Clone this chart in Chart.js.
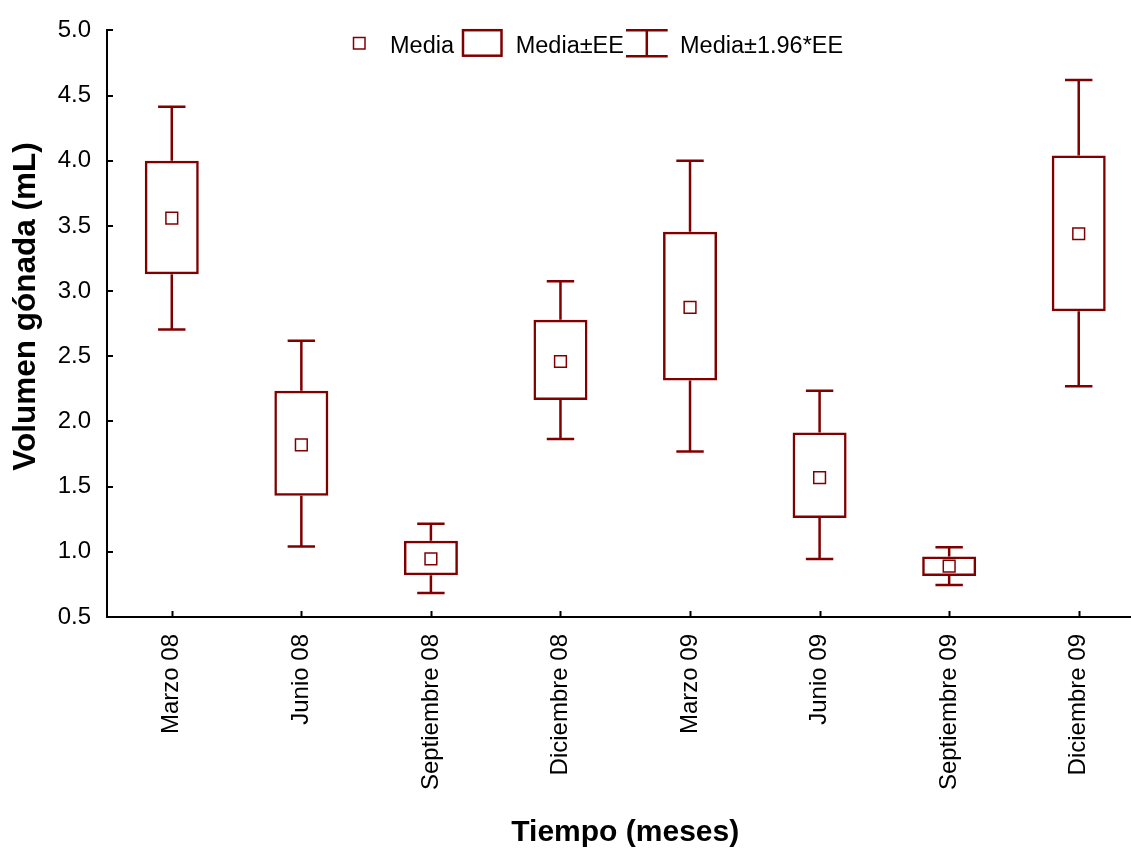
<!DOCTYPE html>
<html>
<head>
<meta charset="utf-8">
<script src="https://cdn.jsdelivr.net/npm/chart.js@4.4.1/dist/chart.umd.min.js"></script>
<style>
  html, body { margin: 0; padding: 0; overflow: hidden; background: #fff; }
  #wrap { width: 1160px; height: 848px; }
</style>
</head>
<body>
<div id="wrap"><canvas id="c" width="1160" height="848"></canvas></div>
<script>
// Sampling dates
const categories = ['Marzo 08', 'Junio 08', 'Septiembre 08', 'Diciembre 08',
                    'Marzo 09', 'Junio 09', 'Septiembre 09', 'Diciembre 09'];
// Mean gonad volume (mL)
const media    = [3.56, 1.82, 0.945, 2.46, 2.875, 1.57, 0.89, 3.44];
// Mean ± standard error (box)
const eeLow    = [3.13, 1.43, 0.82, 2.165, 2.315, 1.26, 0.815, 2.845];
const eeHigh   = [4.00, 2.235, 1.085, 2.78, 3.455, 1.915, 0.965, 4.04];
// Mean ± 1.96 * standard error (whiskers)
const ic95Low  = [2.705, 1.04, 0.685, 1.865, 1.77, 0.945, 0.745, 2.27];
const ic95High = [4.415, 2.62, 1.215, 3.075, 4.00, 2.235, 1.035, 4.62];
// Y axis tick values
const yTicks = [0.5, 1.0, 1.5, 2.0, 2.5, 3.0, 3.5, 4.0, 4.5, 5.0];
const legendLabels = ['Media', 'Media±EE', 'Media±1.96*EE'];
const xTitle = 'Tiempo (meses)';
const yTitle = 'Volumen gónada (mL)';

const RED = '#800000';
const FONT = "'Liberation Sans', Arial, Helvetica, sans-serif";

// Whiskers, inward tick marks, legend and axis titles
const decor = {
  id: 'decor',
  afterDatasetsDraw(chart) {
    const { ctx, chartArea: a } = chart;
    const x = chart.scales.x, y = chart.scales.y;
    ctx.save();

    // whiskers: from box edge to mean ± 1.96*EE with caps
    ctx.strokeStyle = RED;
    ctx.lineWidth = 2.5;
    ctx.lineCap = 'butt';
    const cap = 13.7;
    categories.forEach((c, i) => {
      const cx = x.getPixelForValue(i);
      const yh = y.getPixelForValue(ic95High[i]);
      const yl = y.getPixelForValue(ic95Low[i]);
      const bh = y.getPixelForValue(eeHigh[i]);
      const bl = y.getPixelForValue(eeLow[i]);
      ctx.beginPath();
      ctx.moveTo(cx, bh); ctx.lineTo(cx, yh);
      ctx.moveTo(cx - cap, yh); ctx.lineTo(cx + cap, yh);
      ctx.moveTo(cx, bl); ctx.lineTo(cx, yl);
      ctx.moveTo(cx - cap, yl); ctx.lineTo(cx + cap, yl);
      ctx.stroke();
    });

    // tick marks pointing into the plot
    ctx.strokeStyle = '#000';
    ctx.lineWidth = 2;
    ctx.beginPath();
    y.ticks.forEach(t => {
      const py = Math.round(y.getPixelForValue(t.value));
      ctx.moveTo(a.left, py); ctx.lineTo(a.left + 6, py);
    });
    x.ticks.forEach((t, i) => {
      const px = Math.round(x.getPixelForTick(i)) + 0.5;
      ctx.moveTo(px, a.bottom); ctx.lineTo(px, a.bottom - 6);
    });
    ctx.stroke();

    // legend
    ctx.strokeStyle = RED;
    ctx.lineWidth = 1.5;
    ctx.strokeRect(353.5, 37.5, 11.5, 11.5);
    ctx.lineWidth = 2.5;
    ctx.strokeRect(463, 30.2, 38.5, 25.5);
    ctx.beginPath();
    ctx.moveTo(626, 30.2); ctx.lineTo(667.7, 30.2);
    ctx.moveTo(646.8, 30.2); ctx.lineTo(646.8, 56.2);
    ctx.moveTo(626, 56.2); ctx.lineTo(667.7, 56.2);
    ctx.stroke();
    ctx.fillStyle = '#000';
    ctx.font = '23.5px ' + FONT;
    ctx.textAlign = 'left';
    ctx.textBaseline = 'alphabetic';
    ctx.fillText(legendLabels[0], 390, 52.5);
    ctx.fillText(legendLabels[1], 515.7, 52.5);
    ctx.fillText(legendLabels[2], 680, 52.5);

    // axis titles
    ctx.font = 'bold 30px ' + FONT;
    ctx.textAlign = 'center';
    ctx.fillText(xTitle, (a.left + a.right) / 2, 841);
    ctx.save();
    ctx.translate(35, 306.5);
    ctx.rotate(-Math.PI / 2);
    ctx.font = 'bold 31.5px ' + FONT;
    ctx.fillText(yTitle, 0, 0);
    ctx.restore();

    ctx.restore();
  }
};

new Chart(document.getElementById('c'), {
  type: 'bar',
  data: {
    labels: categories,
    datasets: [
      {
        type: 'line',
        label: legendLabels[0],
        data: media,
        showLine: false,
        order: 0,
        pointStyle: 'rect',
        pointRadius: 8.3,
        pointBorderWidth: 1.5,
        pointBorderColor: RED,
        pointBackgroundColor: 'rgba(0,0,0,0)'
      },
      {
        type: 'bar',
        label: legendLabels[1],
        data: eeLow.map((v, i) => [v, eeHigh[i]]),
        order: 1,
        grouped: false,
        barThickness: 54,
        borderWidth: 2.5,
        borderSkipped: false,
        borderColor: RED,
        backgroundColor: 'rgba(0,0,0,0)',
        inflateAmount: 0
      }
    ]
  },
  options: {
    responsive: false,
    animation: false,
    devicePixelRatio: 1,
    events: [],
    layout: { padding: { top: 28, right: 16.5, left: 0, bottom: 0 } },
    plugins: {
      legend: { display: false },
      tooltip: { enabled: false },
      title: { display: false }
    },
    scales: {
      x: {
        offset: true,
        grid: { display: false, drawTicks: false },
        border: { display: true, color: '#000', width: 2 },
        ticks: {
          color: '#000',
          font: { family: FONT, size: 24 },
          minRotation: 90,
          maxRotation: 90,
          autoSkip: false,
          padding: 17
        },
        afterFit: s => { s.height = 231; }
      },
      y: {
        min: 0.5,
        max: 5.0,
        grid: { display: false, drawTicks: false },
        border: { display: true, color: '#000', width: 2 },
        afterBuildTicks: s => { s.ticks = yTicks.map(v => ({ value: v })); },
        ticks: {
          color: '#000',
          font: { family: FONT, size: 24 },
          padding: 16,
          callback: v => Number(v).toFixed(1)
        },
        afterFit: s => { s.width = 107; }
      }
    }
  },
  plugins: [decor]
});
</script>
</body>
</html>
